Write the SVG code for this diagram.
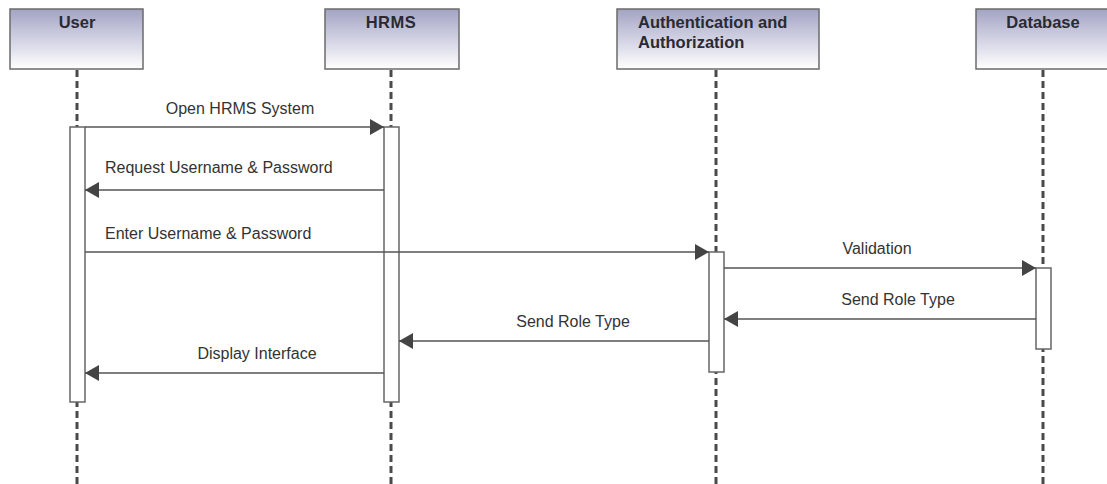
<svg xmlns="http://www.w3.org/2000/svg" width="1107" height="484" viewBox="0 0 1107 484">
<style>
.box{fill:url(#hdr);stroke:#6b6b6b;stroke-width:1.5}
.head{font-family:"Liberation Sans",Arial,sans-serif;font-weight:bold;font-size:16.5px;fill:#2a2a33}
.life{stroke:#4a4a4a;stroke-width:3;stroke-dasharray:7 4;fill:none}
.act{fill:#fff;stroke:#666;stroke-width:1.5}
.msg{stroke:#555;stroke-width:1.5;fill:none;marker-end:url(#arr)}
.lbl{font-family:"Liberation Sans",Arial,sans-serif;font-size:16px;fill:#333}
</style>
<defs>
<linearGradient id="hdr" x1="0" y1="0" x2="0" y2="1">
<stop offset="0" stop-color="#a3a3c4"/>
<stop offset="0.55" stop-color="#d6d6e6"/>
<stop offset="1" stop-color="#ffffff"/>
</linearGradient>
<marker id="arr" viewBox="0 0 14 16" refX="14" refY="8" markerWidth="14" markerHeight="16" markerUnits="userSpaceOnUse" orient="auto">
<path d="M0,0 L14,8 L0,16 Z" fill="#444"/>
</marker>
</defs>
<rect width="1107" height="484" fill="#fff"/>
<g id="user">
<line class="life" x1="77" y1="70" x2="77" y2="484"/>
<rect class="box" x="10" y="9" width="133" height="60"/>
<text class="head" x="77" y="28" text-anchor="middle">User</text>
<rect class="act" x="70" y="127" width="15" height="275"/>
</g>
<g id="hrms">
<line class="life" x1="391" y1="70" x2="391" y2="484"/>
<rect class="box" x="325" y="9" width="134" height="60"/>
<text class="head" x="391" y="28" text-anchor="middle" letter-spacing="0.5">HRMS</text>
<rect class="act" x="384" y="127" width="15" height="275"/>
</g>
<g id="auth">
<line class="life" x1="716" y1="70" x2="716" y2="484"/>
<rect class="box" x="617" y="9" width="202" height="60"/>
<text class="head" x="638" y="28">Authentication and</text>
<text class="head" x="638" y="48">Authorization</text>
<rect class="act" x="709" y="252" width="15" height="120"/>
</g>
<g id="database">
<line class="life" x1="1043" y1="70" x2="1043" y2="484"/>
<rect class="box" x="976" y="9" width="134" height="60"/>
<text class="head" x="1043" y="28" text-anchor="middle">Database</text>
<rect class="act" x="1036" y="268" width="15" height="81"/>
</g>
<g id="connectors">
<line class="msg" x1="85" y1="127" x2="384" y2="127"/>
<text class="lbl" x="240" y="114" text-anchor="middle">Open HRMS System</text>
<line class="msg" x1="384" y1="190" x2="85" y2="190"/>
<text class="lbl" x="105" y="173">Request Username &amp; Password</text>
<line class="msg" x1="85" y1="252" x2="709" y2="252"/>
<text class="lbl" x="105" y="239">Enter Username &amp; Password</text>
<line class="msg" x1="724" y1="268" x2="1036" y2="268"/>
<text class="lbl" x="877" y="254" text-anchor="middle">Validation</text>
<line class="msg" x1="1036" y1="319" x2="724" y2="319"/>
<text class="lbl" x="898" y="305" text-anchor="middle">Send Role Type</text>
<line class="msg" x1="709" y1="341" x2="399" y2="341"/>
<text class="lbl" x="573" y="327" text-anchor="middle">Send Role Type</text>
<line class="msg" x1="384" y1="373" x2="85" y2="373"/>
<text class="lbl" x="257" y="359" text-anchor="middle">Display Interface</text>
</g>
</svg>
